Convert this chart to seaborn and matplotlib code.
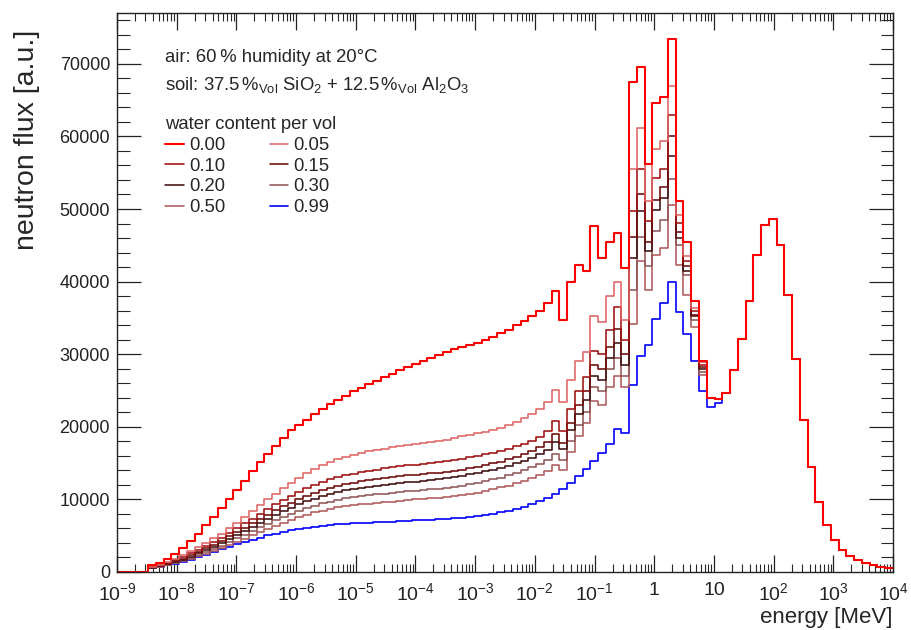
import numpy as np
import pandas as pd
import matplotlib
matplotlib.use("Agg")
import matplotlib.pyplot as plt
import seaborn as sns
from matplotlib.ticker import FixedLocator, FixedFormatter, MultipleLocator, LogLocator, NullFormatter

# ---------------- data ----------------
# 100 logarithmic bins from 1e-9 MeV to 1e4 MeV
n_bins = 100
e_min_exp, e_max_exp = -9, 4

water_labels = ["0.00", "0.05", "0.10", "0.15", "0.20", "0.30", "0.50", "0.99"]

flux_000 = [0, 0, 0, 0,
            900, 1300, 1800, 2500, 3300, 4300, 5300, 6500, 7600, 8800,
            10000, 11300, 12600, 13900, 15100, 16300, 17400, 18500, 19500, 20300,
            21000, 21700, 22400, 23100, 23700, 24300, 24900, 25400, 25900, 26300,
            26800, 27300, 27800, 28200, 28700, 29100, 29500, 29900, 30300, 30700,
            31000, 31300, 31600, 32000, 32400, 32900, 33400, 34000, 34600, 35200,
            35900, 37000, 38700, 34700, 39900, 42300, 41500, 47700, 43200, 45500,
            46700, 41900, 67500, 69600, 56200, 64600, 65400, 73400, 51100, 45500,
            37300, 29100]
flux_005 = [0, 0, 0, 0,
            700, 1000, 1350, 1800, 2300, 2850, 3400, 4000, 4650, 5300,
            6000, 6800, 7600, 8400, 9200, 10000, 10800, 11600, 12300, 13000,
            13700, 14200, 14700, 15100, 15500, 15800, 16100, 16400, 16600, 16800,
            17000, 17200, 17350, 17500, 17650, 17800, 17950, 18100, 18250, 18450,
            18700, 18900, 19100, 19350, 19600, 19900, 20300, 20700, 21200, 21700,
            22400, 23400, 25100, 23400, 26400, 29000, 30300, 35200, 34500, 38000,
            40000, 34700, 55500, 61200, 51100, 58300, 59400, 67000, 49200, 43500,
            36300, 28900]
flux_010 = [0, 0, 0, 0,
            650, 900, 1200, 1600, 2050, 2550, 3050, 3600, 4150, 4750,
            5400, 6050, 6700, 7350, 8000, 8650, 9300, 9900, 10500, 11000,
            11600, 12000, 12400, 12750, 13050, 13300, 13550, 13750, 13950, 14100,
            14300, 14450, 14600, 14700, 14800, 14900, 15000, 15100, 15250, 15400,
            15600, 15800, 16000, 16200, 16400, 16700, 17000, 17300, 17700, 18100,
            18600, 19400, 20800, 19400, 22500, 25000, 26800, 30500, 30000, 33300,
            36500, 32000, 49700, 55500, 48300, 54300, 55500, 63000, 48100, 42800,
            35900, 28500]
flux_015 = [0, 0, 0, 0,
            620, 850, 1100, 1450, 1850, 2300, 2750, 3250, 3750, 4300,
            4900, 5500, 6100, 6700, 7300, 7900, 8500, 9050, 9550, 10000,
            10500, 10900, 11250, 11550, 11850, 12100, 12300, 12500, 12650, 12800,
            12950, 13100, 13200, 13300, 13400, 13500, 13600, 13700, 13800, 13950,
            14100, 14300, 14500, 14700, 14950, 15200, 15500, 15850, 16250, 16700,
            17200, 17900, 19000, 17800, 20500, 23000, 25000, 28500, 28000, 31000,
            33500, 30000, 46100, 52000, 45500, 51300, 53000, 60100, 46900, 42100,
            35400, 28200]
flux_020 = [0, 0, 0, 0,
            600, 800, 1050, 1350, 1700, 2100, 2550, 3000, 3500, 4000,
            4550, 5100, 5650, 6200, 6750, 7300, 7850, 8350, 8850, 9300,
            9750, 10100, 10450, 10750, 11000, 11250, 11450, 11600, 11750, 11900,
            12000, 12150, 12250, 12350, 12450, 12550, 12650, 12750, 12900, 13050,
            13250, 13450, 13650, 13850, 14100, 14350, 14650, 15000, 15350, 15750,
            16200, 16800, 17900, 16900, 19500, 21800, 23700, 27000, 26500, 29500,
            31500, 28500, 43200, 49700, 44200, 49900, 51500, 57300, 46000, 41400,
            35200, 28000]
flux_030 = [0, 0, 0, 0,
            580, 780, 1000, 1280, 1600, 1950, 2350, 2750, 3200, 3650,
            4150, 4650, 5150, 5650, 6150, 6650, 7150, 7600, 8050, 8450,
            8850, 9150, 9450, 9700, 9950, 10150, 10300, 10450, 10600, 10700,
            10800, 10900, 11000, 11100, 11200, 11300, 11400, 11500, 11600, 11750,
            11900, 12100, 12300, 12500, 12750, 13000, 13300, 13600, 14000, 14400,
            14850, 15400, 16300, 15400, 18000, 20200, 22000, 25500, 25000, 28000,
            29500, 27000, 38900, 46200, 42100, 47000, 48500, 54100, 45100, 40900,
            34700, 27600]
flux_050 = [0, 0, 0, 0,
            560, 750, 950, 1200, 1500, 1800, 2150, 2500, 2900, 3300,
            3700, 4150, 4600, 5050, 5500, 5950, 6400, 6800, 7200, 7550,
            7900, 8200, 8450, 8700, 8900, 9050, 9200, 9300, 9400, 9500,
            9600, 9700, 9800, 9900, 10000, 10100, 10150, 10250, 10350, 10450,
            10600, 10750, 10950, 11150, 11400, 11650, 11900, 12200, 12550, 12950,
            13400, 13900, 14700, 14000, 16500, 18700, 20500, 23500, 23000, 25500,
            27000, 25500, 34200, 42800, 38800, 43700, 44600, 50600, 42300, 38200,
            33800, 27100]
flux_099 = [0, 0, 0, 0,
            500, 700, 900, 1100, 1400, 1700, 2050, 2400, 2750, 3100,
            3450, 3800, 4150, 4450, 4750, 5050, 5300, 5550, 5750, 5950,
            6100, 6250, 6350, 6450, 6550, 6650, 6700, 6750, 6800, 6850,
            6900, 6950, 7000, 7050, 7100, 7150, 7200, 7250, 7300, 7400,
            7500, 7600, 7700, 7850, 8000, 8200, 8450, 8700, 9000, 9350,
            9750, 10200, 10800, 11500, 12300, 13200, 14200, 15300, 16400, 17600,
            19700, 19200, 25700, 29800, 31200, 34900, 37000, 40000, 35800, 32800,
            29100, 25000]

# fast-neutron tail (bins 76..99): almost identical for all water contents
tail_common = [24000, 23800, 24700, 27800, 32100, 37300, 43600, 47800, 48600, 45100,
               38100, 29400, 21000, 14400, 9600, 6500, 4400, 3050, 2200, 1650,
               1300, 970, 740, 510]
tail_blue = [22700, 23300, 24700, 27800, 32100, 37300, 43600, 47800, 48600, 45100,
             38100, 29400, 21000, 14400, 9600, 6500, 4400, 3050, 2200, 1650,
             1300, 970, 740, 510]

series = {
    "0.00": flux_000 + tail_common,
    "0.05": flux_005 + tail_common,
    "0.10": flux_010 + tail_common,
    "0.15": flux_015 + tail_common,
    "0.20": flux_020 + tail_common,
    "0.30": flux_030 + tail_common,
    "0.50": flux_050 + tail_common,
    "0.99": flux_099 + tail_blue,
}

x_tick_labels = [r"$10^{-9}$", r"$10^{-8}$", r"$10^{-7}$", r"$10^{-6}$", r"$10^{-5}$",
                 r"$10^{-4}$", r"$10^{-3}$", r"$10^{-2}$", r"$10^{-1}$", "1", "10",
                 r"$10^{2}$", r"$10^{3}$", r"$10^{4}$"]

# ---------------- styling ----------------
colors = {
    "0.00": "#ff0000",
    "0.05": "#e06464",
    "0.10": "#a01010",
    "0.15": "#700a0a",
    "0.20": "#401010",
    "0.30": "#905656",
    "0.50": "#b05a5a",
    "0.99": "#0000ff",
}
widths = {k: 1.15 for k in colors}
widths["0.00"] = 1.5
widths["0.99"] = 1.2

sns.set_style("ticks")
plt.rcParams["font.family"] = ["Liberation Sans", "DejaVu Sans"]
plt.rcParams["mathtext.fontset"] = "custom"
plt.rcParams["mathtext.rm"] = "Liberation Sans"
plt.rcParams["mathtext.it"] = "Liberation Sans:italic"
plt.rcParams["mathtext.bf"] = "Liberation Sans:bold"
plt.rcParams["mathtext.default"] = "regular"

edges = np.logspace(e_min_exp, e_max_exp, n_bins + 1)

rows = []
for lab, vals in series.items():
    ys = list(vals) + [vals[-1]]
    for e, v in zip(edges, ys):
        rows.append({"energy": e, "flux": v, "water": lab})
df = pd.DataFrame(rows)

fig = plt.figure(figsize=(9.11, 6.30), dpi=100)
ax = fig.add_axes([117 / 911, 58 / 630, 776 / 911, 559 / 630])

draw_order = ["0.99", "0.50", "0.30", "0.20", "0.15", "0.10", "0.05", "0.00"]
handles = {}
for lab in draw_order:
    sub = df[df["water"] == lab]
    sns.lineplot(data=sub, x="energy", y="flux", ax=ax, color=colors[lab],
                 linewidth=widths[lab], drawstyle="steps-post", estimator=None,
                 sort=False, legend=False)
    handles[lab] = ax.lines[-1]

ax.set_xscale("log")
ax.set_xlim(1e-9, 1e4)
ax.set_ylim(0, 77000)

ax.xaxis.set_major_locator(FixedLocator(10.0 ** np.arange(e_min_exp, e_max_exp + 1)))
ax.xaxis.set_major_formatter(FixedFormatter(x_tick_labels))
ax.xaxis.set_minor_locator(LogLocator(base=10, subs=np.arange(2, 10), numticks=200))
ax.xaxis.set_minor_formatter(NullFormatter())
ax.yaxis.set_major_locator(MultipleLocator(10000))
ax.yaxis.set_minor_locator(MultipleLocator(2000))

for s in ax.spines.values():
    s.set_visible(True)
    s.set_linewidth(1.0)
    s.set_color("#222222")

ax.tick_params(axis="x", which="major", direction="in", length=12, width=0.9,
               top=True, bottom=True, labelsize=14, pad=7, colors="#222222")
ax.tick_params(axis="x", which="minor", direction="in", length=6, width=0.8,
               top=True, bottom=True)
ax.tick_params(axis="y", which="major", direction="in", length=17, width=0.9,
               left=True, right=True, labelsize=13, pad=5, colors="#222222")
ax.tick_params(axis="y", which="minor", direction="in", length=9, width=0.8,
               left=True, right=True)

ax.set_xlabel("energy [MeV]", fontsize=16, ha="right", va="center")
ax.xaxis.set_label_coords(1.0, -0.082)
ax.set_ylabel("neutron flux [a.u.]", fontsize=20.5, ha="right", va="center")
ax.yaxis.set_label_coords(-0.116, 0.97)

ax.text(0.062, 0.921, "air: 60\u2009% humidity at 20°C", transform=ax.transAxes,
        fontsize=13.3, va="center", ha="left")
ax.text(0.062, 0.871,
        r"soil: 37.5$\,\%_{\mathrm{Vol}}$ SiO$_{2}$ + 12.5$\,\%_{\mathrm{Vol}}$ Al$_{2}$O$_{3}$",
        transform=ax.transAxes, fontsize=13.3, va="center", ha="left")

leg_order = ["0.00", "0.10", "0.20", "0.50", "0.05", "0.15", "0.30", "0.99"]
leg = ax.legend([handles[k] for k in leg_order], leg_order,
                title="water content per vol", ncol=2, frameon=False,
                loc="upper left", bbox_to_anchor=(0.062, 0.815),
                borderpad=0, borderaxespad=0, fontsize=13.3, title_fontsize=13.3,
                handlelength=1.0, handletextpad=0.3, columnspacing=2.4,
                labelspacing=0.2, alignment="left")

fig.savefig("out.png", dpi=100)
